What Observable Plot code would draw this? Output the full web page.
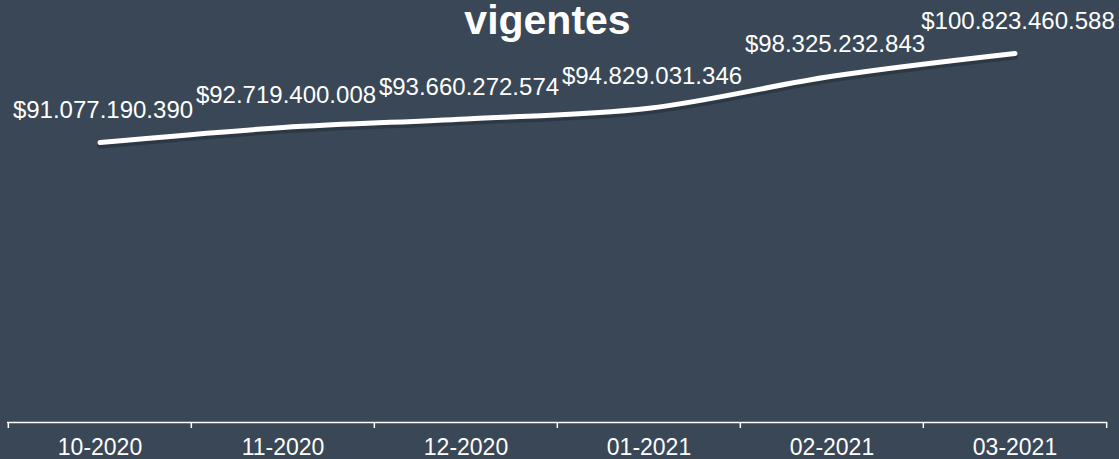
<!DOCTYPE html>
<html>
<head>
<meta charset="utf-8">
<script src="https://cdn.jsdelivr.net/npm/d3@7"></script>
<script src="https://cdn.jsdelivr.net/npm/@observablehq/plot@0.6"></script>
<style>
  html, body { margin: 0; padding: 0; background: #394756; }
  #chart { width: 1119px; height: 459px; overflow: hidden; }
  svg { font-family: "Liberation Sans", Arial, sans-serif; }
</style>
</head>
<body>
<div id="chart"></div>
<script>
const months = ["10-2020", "11-2020", "12-2020", "01-2021", "02-2021", "03-2021"];
const amounts = [91077190390, 92719400008, 93660272574, 94829031346, 98325232843, 100823460588];
const titleLines = ["vigentes"];

const rows = months.map((m, i) => ({month: m, value: amounts[i]}));
const fmt = d3.formatLocale({decimal: ",", thousands: ".", grouping: [3], currency: ["$", ""]}).format("$,.0f");

const W = 1119, H = 459;
const mL = 7, mR = 12, mT = 40, mB = 37;
const bw = (W - mL - mR) / months.length;
const yDomain = [60.42e9, 102.25e9];

const chart = Plot.plot({
  width: W,
  height: H,
  marginLeft: mL,
  marginRight: mR,
  marginTop: mT,
  marginBottom: mB,
  style: {background: "#394756", color: "white", fontFamily: "'Liberation Sans', Arial, sans-serif", overflow: "visible"},
  x: {type: "band", domain: months, padding: 0, axis: null, label: null},
  y: {domain: yDomain, axis: null, label: null},
  marks: [
    Plot.ruleY([yDomain[0]], {stroke: "white", strokeWidth: 1.5}),
    Plot.axisX({tickSize: 6, tickFormat: () => "", label: null, dx: -bw / 2, stroke: "white", strokeWidth: 1.5}),
    Plot.axisX({ticks: [months[months.length - 1]], tickSize: 6, tickFormat: () => "", label: null, dx: bw / 2, stroke: "white", strokeWidth: 1.5}),
    Plot.axisX({tickSize: 0, tickPadding: 16, fontSize: 23, label: null, fill: "white"}),
    Plot.line(rows, {x: "month", y: "value", curve: "catmull-rom", stroke: "#1a232b", strokeOpacity: 0.4, strokeWidth: 6, dy: 3, strokeLinecap: "round"}),
    Plot.line(rows, {x: "month", y: "value", curve: "catmull-rom", stroke: "white", strokeWidth: 5, strokeLinecap: "round"}),
    Plot.text(rows, {x: "month", y: "value", text: d => fmt(d.value), dy: -32, dx: 3, fontSize: 24, fill: "white"}),
    Plot.text(titleLines, {frameAnchor: "top", text: d => d, dx: -10, dy: -36, fontSize: 41, fontWeight: "bold", fill: "white"})
  ]
});
document.getElementById("chart").appendChild(chart);
</script>
</body>
</html>
